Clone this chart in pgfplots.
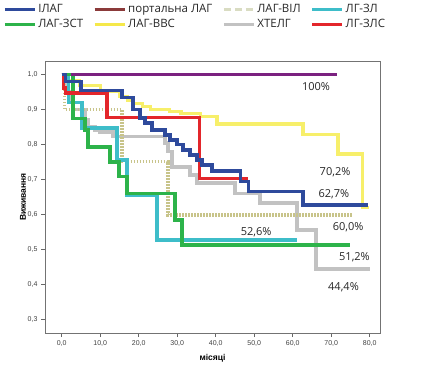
\documentclass[border=0pt]{standalone}
\usepackage{fontspec}
\setmainfont{Liberation Sans}
\newfontfamily\osans{Open Sans}
\usepackage{pgfplots}
\pgfplotsset{compat=1.18}
\definecolor{cblue}{HTML}{2E4A9C}
\definecolor{cpurple}{HTML}{7B2180}
\definecolor{cbrown}{HTML}{8B3A3A}
\definecolor{cvil}{HTML}{C8C48A}
\definecolor{cvilleg}{HTML}{D9DCC2}
\definecolor{cteal}{HTML}{3EBDC9}
\definecolor{cgreen}{HTML}{2DB34A}
\definecolor{cyellow}{HTML}{F7EF6A}
\definecolor{cyellowleg}{HTML}{F5E84A}
\definecolor{cgray}{HTML}{C2C2C2}
\definecolor{cred}{HTML}{E3262B}
\begin{document}
\begin{tikzpicture}
\useasboundingbox (0,0) rectangle (422pt,372pt);
\begin{axis}[
  at={(45pt,39pt)}, anchor=south west,
  scale only axis, width=335pt, height=272pt,
  xmin=-4.34, xmax=82.68, ymin=0.262, ymax=1.039,
  xtick={0,10,...,80}, ytick={0.3,0.4,...,1.0},
  xticklabels={{0,0},{10,0},{20,0},{30,0},{40,0},{50,0},{60,0},{70,0},{80,0}},
  yticklabel style={/pgf/number format/.cd,fixed,fixed zerofill,precision=1,use comma},
  /pgf/number format/assume math mode=true,
  tick label style={font=\fontsize{7}{8}\selectfont, text=black!75},
  tick align=outside, tick pos=left, major tick length=4pt,
  tick style={black!60, line width=0.6pt},
  axis line style={black!55, line width=0.8pt},
  xlabel={\bfseries місяці}, ylabel={\bfseries Виживання},
  label style={font=\fontsize{8.5}{10}\selectfont},
  xlabel style={yshift=-1pt},
  ylabel style={yshift=-5pt},
  legend columns=4,
  legend image code/.code={\draw[#1] (0pt,0pt) -- (30pt,0pt);},
  legend style={draw=none, fill=none, at={(-0.134,1.224)}, anchor=north west,
    font=\osans\fontsize{11.5}{13}\selectfont, text=black!85,
    /tikz/every even column/.append style={column sep=8pt},
    row sep=1pt, legend cell align=left},
]
\addlegendimage{cblue, line width=3pt}
\addlegendentry{ІЛАГ}
\addlegendimage{cbrown, line width=3pt}
\addlegendentry{портальна ЛАГ}
\addlegendimage{cvilleg, line width=3pt, dash pattern=on 7pt off 4pt}
\addlegendentry{ЛАГ-ВІЛ}
\addlegendimage{cteal, line width=3pt}
\addlegendentry{ЛГ-ЗЛ}
\addlegendimage{cgreen, line width=3pt}
\addlegendentry{ЛАГ-ЗСТ}
\addlegendimage{cyellowleg, line width=3pt}
\addlegendentry{ЛАГ-ВВС}
\addlegendimage{cgray, line width=3pt}
\addlegendentry{ХТЕЛГ}
\addlegendimage{cred, line width=3pt}
\addlegendentry{ЛГ-ЗЛС}

\addplot[const plot, cyellow, line width=3.3pt, forget plot] coordinates {
(0,1)(1.3,0.983)(4.7,0.97)(10,0.952)(15,0.937)(17,0.928)(18.5,0.918)(21,0.909)(23,0.9)(28,0.895)(31,0.89)(36,0.88)(40.3,0.859)(62.7,0.83)(71.8,0.773)(78.1,0.62)(79.8,0.62)};
\addplot[const plot, cgray, line width=3.6pt, forget plot] coordinates {
(0,1)(1,0.951)(2,0.928)(2.9,0.9)(6.05,0.87)(6.8,0.851)(8.6,0.842)(10,0.837)(13.3,0.823)(26.8,0.805)(27.6,0.78)(28.6,0.737)(33.3,0.713)(35.1,0.69)(45,0.661)(51.5,0.633)(61.1,0.556)(66,0.444)(80,0.444)};
\addplot[const plot, cvil, line width=3.3pt, dash pattern=on 1.5pt off 1.5pt, forget plot] coordinates {
(0,1)(0.7,0.9)(15.7,0.751)(27.6,0.599)(75.7,0.599)};
\addplot[const plot, cteal, line width=3.5pt, forget plot] coordinates {
(0,1)(1.8,0.92)(5.3,0.847)(14.4,0.756)(17,0.656)(24.8,0.527)(61,0.527)};
\addplot[const plot, cgreen, line width=3.5pt, forget plot] coordinates {
(0,1)(2.9,0.875)(6.05,0.842)(6.8,0.793)(12.5,0.751)(14.9,0.709)(17,0.661)(29.4,0.585)(31.3,0.513)(75,0.513)};
\addplot[const plot, cred, line width=3.5pt, forget plot] coordinates {
(0,1)(0.5,0.962)(1,0.947)(11.7,0.878)(35.8,0.704)(48.4,0.704)};
\addplot[const plot, cblue, line width=3.5pt, forget plot] coordinates {
(0,1)(1,0.98)(5,0.955)(15.7,0.935)(18.5,0.9)(20.3,0.876)(21.6,0.862)(23.5,0.842)(26.8,0.828)(28.1,0.813)(30,0.8)(31.5,0.785)(33.3,0.77)(35.1,0.756)(36.5,0.742)(39,0.725)(46.5,0.695)(48.5,0.666)(62.7,0.628)(79.6,0.628)};
\addplot[const plot, cpurple, line width=3.3pt, forget plot] coordinates {
(2.5,1)(71.5,1)};

\begin{scope}[every node/.style={font=\osans\fontsize{11}{13}\selectfont, text=black!85}]
\node at (axis cs:66.05,0.966) {100\%};
\node at (axis cs:71.0,0.72) {70,2\%};
\node at (axis cs:70.7,0.658) {62,7\%};
\node at (axis cs:74.4,0.563) {60,0\%};
\node at (axis cs:50.5,0.55) {52,6\%};
\node at (axis cs:76.05,0.478) {51,2\%};
\node at (axis cs:73.2,0.393) {44,4\%};
\end{scope}
\end{axis}
\end{tikzpicture}
\end{document}
